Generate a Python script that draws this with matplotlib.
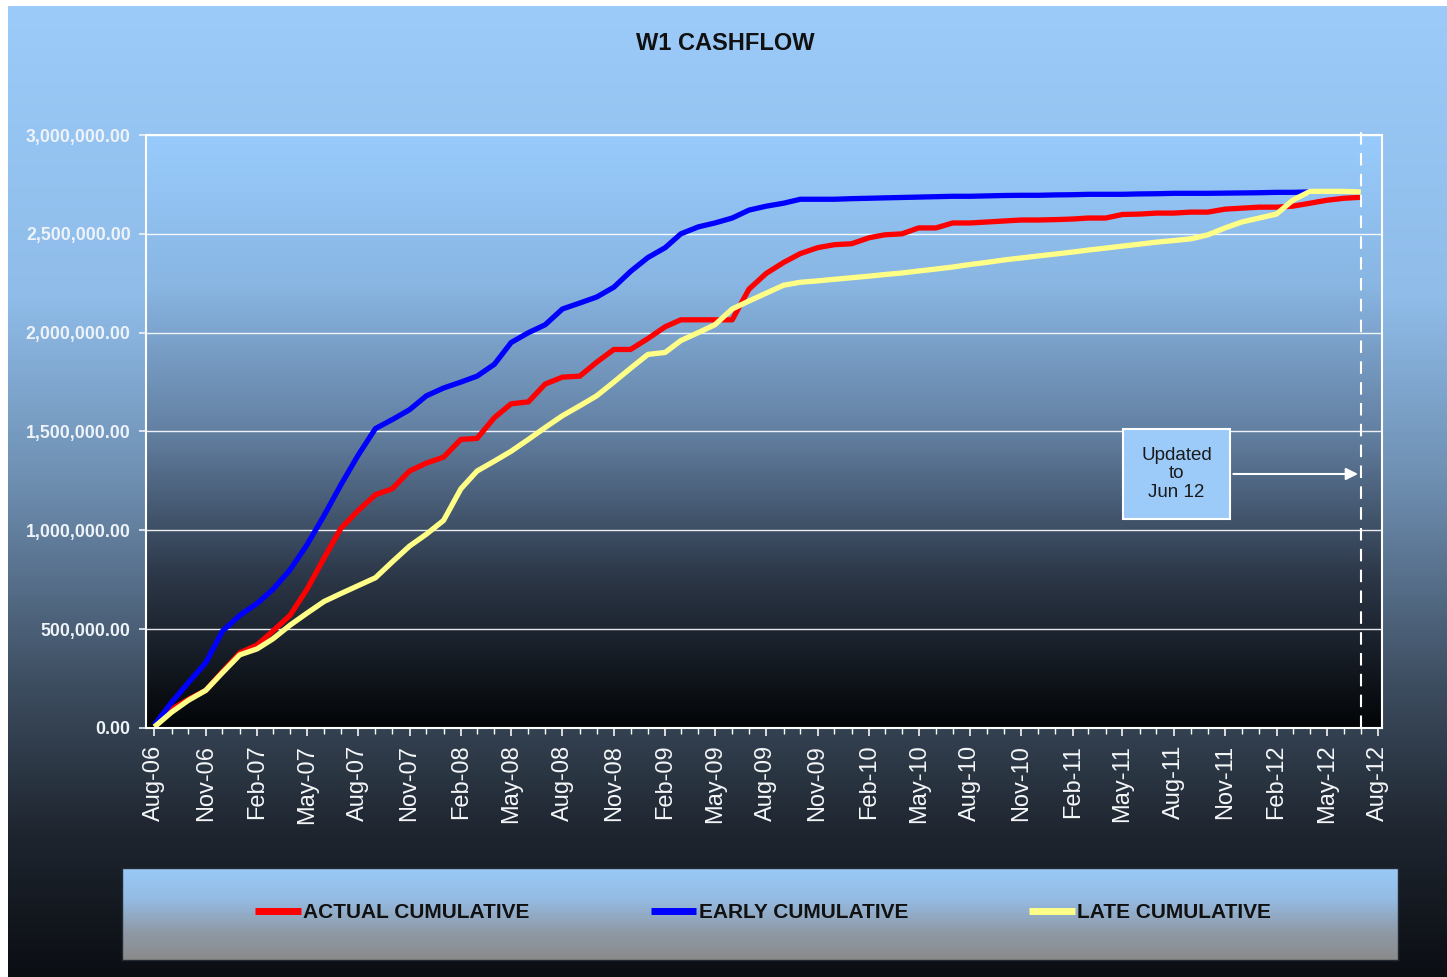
import numpy as np
import pandas as pd
import matplotlib
matplotlib.use("Agg")
import matplotlib.pyplot as plt
import matplotlib.dates as mdates
from matplotlib.colors import LinearSegmentedColormap
from matplotlib.ticker import FuncFormatter, MultipleLocator

plt.rcParams['font.family'] = ['Liberation Sans', 'DejaVu Sans']

# monthly points, Aug-06 .. Jul-12
months = pd.date_range('2006-08-01', periods=72, freq='MS')

# cumulative values in thousands
actual_k = [10, 95, 145, 190, 285, 380, 420, 490, 570, 700,
            860, 1010, 1100, 1180, 1210, 1300, 1340, 1370, 1460, 1465,
            1570, 1640, 1650, 1740, 1775, 1780, 1850, 1915, 1915, 1970,
            2030, 2065, 2065, 2065, 2065, 2220, 2300, 2355, 2400, 2430,
            2445, 2450, 2480, 2495, 2500, 2530, 2530, 2555, 2555, 2560,
            2565, 2570, 2570, 2572, 2575, 2580, 2580, 2598, 2600, 2605,
            2605, 2610, 2610, 2625, 2630, 2635, 2635, 2640, 2655, 2670,
            2680, 2685]
early_k = [15, 130, 230, 330, 490, 570, 630, 700, 800, 925,
           1075, 1230, 1380, 1515, 1560, 1610, 1680, 1720, 1750, 1780,
           1840, 1950, 2000, 2040, 2120, 2150, 2180, 2230, 2310, 2380,
           2430, 2500, 2535, 2555, 2580, 2620, 2640, 2655, 2675, 2675,
           2675, 2678, 2680, 2682, 2684, 2686, 2688, 2690, 2690, 2692,
           2694, 2695, 2695, 2697, 2698, 2700, 2700, 2700, 2702, 2703,
           2705, 2705, 2705, 2706, 2707, 2708, 2710, 2710, 2712]
late_k = [5, 80, 140, 190, 280, 370, 400, 450, 520, 580,
          640, 680, 720, 760, 840, 920, 980, 1050, 1210, 1300,
          1350, 1400, 1460, 1520, 1580, 1630, 1680, 1750, 1820, 1890,
          1900, 1960, 2000, 2040, 2120, 2160, 2200, 2240, 2255, 2262,
          2270, 2278, 2286, 2294, 2302, 2312, 2322, 2332, 2345, 2356,
          2368, 2378, 2388, 2398, 2408, 2418, 2428, 2438, 2448, 2458,
          2466, 2475, 2495, 2530, 2560, 2580, 2600, 2670, 2715, 2715,
          2715, 2712]

actual = np.array(actual_k) * 1000
early = np.array(early_k) * 1000
late = np.array(late_k) * 1000

update_month = months[71]

fig = plt.figure(figsize=(14.47, 9.77), dpi=100, facecolor='white')
grad = np.linspace(0, 1, 256).reshape(-1, 1)

# page background
bg = fig.add_axes([0.0055, 0, 0.9945, 0.994], zorder=-3)
bg_cmap = LinearSegmentedColormap.from_list(
    'bg', [(0, '#9ccbf9'), (0.3, '#8fbce9'), (0.5, '#6c8cae'),
           (0.7, '#3d4d60'), (0.85, '#1f2630'), (1, '#0b0e13')])
bg.imshow(grad, aspect='auto', cmap=bg_cmap, extent=[0, 1, 0, 1])
bg.axis('off')

rect = [0.1009, 0.2549, 0.8542, 0.6069]

# plot area gradient
pbg = fig.add_axes(rect, zorder=-2)
p_cmap = LinearSegmentedColormap.from_list(
    'plot', [(0, '#98cbfc'), (0.25, '#89b6e3'), (0.5, '#6380a2'),
             (0.75, '#2b3646'), (1, '#030507')])
pbg.imshow(grad, aspect='auto', cmap=p_cmap, extent=[0, 1, 0, 1])
pbg.axis('off')

ax = fig.add_axes(rect)
ax.patch.set_alpha(0)

ax.plot(months, actual, color='#ff0000', lw=3.8, solid_capstyle='butt')
ax.plot(months[:len(early)], early, color='#0000ff', lw=3.8, solid_capstyle='butt')
ax.plot(months, late, color='#ffff88', lw=3.8, solid_capstyle='butt')

ax.set_ylim(0, 3000000)
ax.set_xlim(pd.Timestamp('2006-07-17'), pd.Timestamp('2012-08-08'))
ax.yaxis.set_major_locator(MultipleLocator(500000))
ax.yaxis.set_major_formatter(FuncFormatter(lambda v, p: f'{v:,.2f}'))
ax.grid(axis='y', color='white', lw=1, alpha=0.9)
ax.set_axisbelow(True)

ax.xaxis.set_major_locator(mdates.MonthLocator(bymonth=[2, 5, 8, 11]))
ax.xaxis.set_minor_locator(mdates.MonthLocator())
ax.xaxis.set_major_formatter(mdates.DateFormatter('%b-%y'))

ax.tick_params(axis='y', colors='#eef3f9', labelsize=12.8, length=5, width=1.2, pad=6)
ax.tick_params(axis='x', which='major', colors='#f4f6f8', labelsize=17, length=6,
               width=1.2, pad=6, labelrotation=90)
ax.tick_params(axis='x', which='minor', colors='white', length=4, width=1)
for lbl in ax.get_yticklabels():
    lbl.set_fontweight('bold')
for s in ax.spines.values():
    s.set_color('white')
    s.set_linewidth(1.5)

# update marker
ax.plot([update_month, update_month], [0, 3050000], color='white', lw=1.5,
        ls=(0, (6, 4)), clip_on=False)
box_x = mdates.date2num(months[60]) + 5
ax.annotate('Updated\nto\nJun 12', xy=(update_month, 1285000), xytext=(box_x, 1285000),
            ha='center', va='center', fontsize=13.5, color='#1a1a1a', linespacing=1.12,
            bbox=dict(boxstyle='square,pad=0.95', fc='#9ccbfa', ec='white', lw=1.5),
            arrowprops=dict(arrowstyle='-|>', color='white', lw=1.5, mutation_scale=18))

fig.text(0.501, 1 - 43 / 977, 'W1 CASHFLOW', ha='center', va='center',
         fontsize=17, fontweight='bold', color='#111111')

# legend panel
lax = fig.add_axes([0.0843, 0.0174, 0.8818, 0.0942], zorder=-1)
l_cmap = LinearSegmentedColormap.from_list(
    'leg', [(0, '#9acaf8'), (0.35, '#94bbe2'), (0.7, '#8f9aa6'), (1, '#8a8a8a')])
lax.imshow(grad, aspect='auto', cmap=l_cmap, extent=[0, 1, 0, 1])
lax.set_xticks([])
lax.set_yticks([])
for s in lax.spines.values():
    s.set_color('#222a33')
    s.set_linewidth(1)

handles = ax.get_lines()[:3]
leg = fig.legend(handles, ['ACTUAL CUMULATIVE', 'EARLY CUMULATIVE', 'LATE CUMULATIVE'],
                 loc='center', bbox_to_anchor=(763 / 1447, 1 - 913 / 977), ncol=3,
                 frameon=False, handlelength=2.2, handletextpad=0.1,
                 columnspacing=5.8, prop={'size': 15, 'weight': 'bold'})
for t in leg.get_texts():
    t.set_color('#111111')
for h in leg.legend_handles:
    h.set_linewidth(5)

fig.savefig('out.png', dpi=100)
